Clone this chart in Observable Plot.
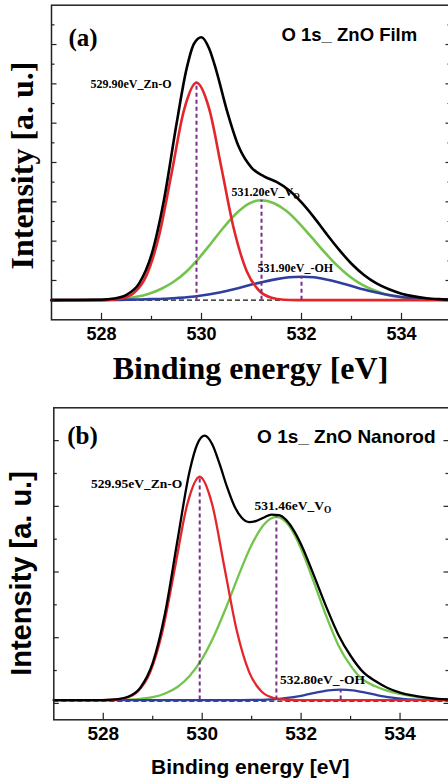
<!DOCTYPE html>
<html><head><meta charset="utf-8">
<script src="https://cdn.jsdelivr.net/npm/d3@7"></script>
<script src="https://cdn.jsdelivr.net/npm/@observablehq/plot@0.6"></script>
<style>
html,body{margin:0;padding:0;background:#fff;overflow:hidden;width:448px;height:781px}
#chart svg{display:block}
</style></head><body><div id="chart"></div>
<script>
// ---------------- DATA: panel (a) O 1s ZnO Film ----------------
const blackA_E = [527.0,527.5,528.0,528.25,528.5,528.75,529.0,529.25,529.5,529.7,529.85,530.0,530.15,530.3,530.5,530.75,531.0,531.25,531.5,531.75,532.0,532.25,532.5,532.75,533.0,533.25,533.5,533.75,534.0,534.25,534.5,534.75,535.0];
const blackA_I = [0,0.01,0.02,0.08,0.27,0.84,2.31,5.11,8.96,11.75,13.04,13.37,12.81,11.64,9.72,7.77,6.74,6.30,6.01,5.59,4.97,4.21,3.37,2.57,1.85,1.28,0.85,0.55,0.33,0.19,0.10,0.05,0.02];
const redA_E = [527.0,527.9,528.15,528.4,528.65,528.9,529.15,529.4,529.65,529.9,530.15,530.4,530.65,530.9,531.15,531.4,531.65,531.9,535.0];
const redA_I = [0,0,0.01,0.08,0.37,1.26,3.26,6.43,9.66,11.06,9.76,6.71,3.59,1.50,0.49,0.12,0.02,0,0];
const greenA_E = [527.0,527.7,527.95,528.2,528.45,528.7,528.95,529.2,529.45,529.7,529.95,530.2,530.45,530.7,530.95,531.2,531.45,531.7,531.95,532.2,532.45,532.7,532.95,533.2,533.45,533.7,533.95,534.2,534.45,534.7,535.0];
const greenA_I = [0,0.01,0.02,0.04,0.08,0.17,0.33,0.58,0.95,1.46,2.14,2.92,3.72,4.42,4.91,5.08,4.93,4.53,3.92,3.20,2.47,1.79,1.23,0.80,0.50,0.28,0.16,0.09,0.05,0.03,0.01];
const blueA_E = [527.0,528.0,528.25,528.5,528.75,529.0,529.25,529.5,529.75,530.0,530.25,530.5,530.75,531.0,531.25,531.5,531.75,532.0,532.25,532.5,532.75,533.0,533.25,533.5,533.75,534.0,534.25,534.5,534.75,535.0];
const blueA_I = [0,0,0.01,0.02,0.03,0.05,0.07,0.11,0.16,0.24,0.34,0.47,0.62,0.79,0.94,1.07,1.16,1.19,1.16,1.05,0.90,0.72,0.54,0.39,0.26,0.16,0.09,0.05,0.02,0.01];
const peakA_E = [529.9, 531.2, 532.0];
const peakA_I = [11.06, 5.08, 1.19];
const peakA_label = ["529.90eV_Zn-O", "531.20eV_V", "531.90eV_-OH"];
const peakA_sub = ["", "O", ""];
const baselineA = 0;
const titleA = "O 1s_ ZnO Film";
const tagA = "(a)";

// ---------------- DATA: panel (b) O 1s ZnO Nanorod ----------------
const blackB_E = [527.0,527.5,528.0,528.25,528.5,528.75,529.0,529.25,529.5,529.75,529.9,530.05,530.2,530.35,530.5,530.65,530.8,530.95,531.1,531.25,531.4,531.55,531.7,531.85,532.0,532.25,532.5,532.75,533.0,533.25,533.5,533.75,534.0,534.25,534.5,534.75,535.0];
const blackB_I = [0.1,0.1,0.10,0.12,0.20,0.48,1.23,2.75,4.96,7.10,7.89,8.15,7.90,7.30,6.60,6.01,5.65,5.52,5.56,5.66,5.75,5.73,5.58,5.27,4.84,3.93,2.97,2.10,1.45,0.96,0.68,0.47,0.33,0.24,0.18,0.14,0.12];
const redB_E = [527.0,527.95,528.2,528.45,528.7,528.95,529.2,529.45,529.7,529.95,530.2,530.45,530.7,530.95,531.2,531.45,531.7,531.95,535.0];
const redB_I = [0.1,0.1,0.11,0.16,0.36,0.95,2.21,4.14,6.07,6.90,6.07,4.14,2.21,0.95,0.36,0.16,0.11,0.1,0.1];
const greenB_E = [527.0,528.0,528.25,528.5,528.75,529.0,529.25,529.5,529.75,530.0,530.25,530.5,530.75,531.0,531.25,531.5,531.75,532.0,532.25,532.5,532.75,533.0,533.25,533.5,533.75,534.0,534.25,534.5,534.75,535.0];
const greenB_I = [0.1,0.1,0.105,0.115,0.14,0.19,0.30,0.50,0.84,1.36,2.09,2.98,3.95,4.83,5.45,5.68,5.42,4.71,3.72,2.69,1.78,1.15,0.72,0.52,0.38,0.29,0.22,0.17,0.14,0.12];
const blueB_E = [527.0,530.8,531.05,531.3,531.55,531.8,532.05,532.3,532.55,532.8,533.05,533.3,533.55,533.8,534.05,534.3,534.55,535.0];
const blueB_I = [0.1,0.1,0.105,0.114,0.137,0.18,0.247,0.326,0.393,0.42,0.393,0.326,0.247,0.18,0.137,0.114,0.105,0.1];
const peakB_E = [529.95, 531.5, 532.8];
const peakB_I = [6.90, 5.68, 0.42];
const peakB_label = ["529.95eV_Zn-O", "531.46eV_V", "532.80eV_-OH"];
const peakB_sub = ["", "O", ""];
const baselineB = 0.07;
const peakBaseB = 0.1;
const titleB = "O 1s_ ZnO Nanorod";
const tagB = "(b)";

// ---------------- axes ----------------
const energyTicks = [528, 530, 532, 534];
const energyMinor = [529, 531, 533];
const yMajorA = [1,3,5,7,9,11,13];
const yMinorA = [0,2,4,6,8,10,12,14];
const yMajorB = [0,2,4,6,8];
const yMinorB = [1,3,5,7];
const xLabel = "Binding energy [eV]";
const yLabel = "Intensity [a. u.]";

// ---------------- rendering ----------------
const SERIF = "'Liberation Serif','Times New Roman',serif";
const SANS = "'Liberation Sans',Arial,sans-serif";
const C = {black:"#000000", red:"#e3262b", green:"#72c44a", blue:"#2f3f9f", purple:"#7b2d8c", frame:"#222"};

const series = (E, I) => E.map((e, i) => ({e, v: I[i]}));
const peaksOf = (E, I, L, S) => E.map((e, i) => ({e, v: I[i], label: L[i], sub: S[i]}));

function panel(p) {
  const pw = p.width - p.marginLeft - p.marginRight;
  const ph = p.height - p.marginTop - p.marginBottom;
  const tickStyle = {stroke: C.frame, strokeWidth: 1.2};
  const marks = [
    Plot.ruleY([p.baseline], {y: d => d, stroke: "#111", strokeWidth: 1.1, strokeDasharray: "5,3"}),
    ...p.curves.map(c => Plot.line(series(c.E, c.I), {x: "e", y: "v", stroke: c.color, strokeWidth: p.lineWidth, curve: "monotone-x"})),
    Plot.ruleX(p.peaks, {x: "e", y1: p.peakBase, y2: "v", stroke: C.purple, strokeWidth: 2, strokeDasharray: "4,3"}),
    Plot.frame({stroke: C.frame, strokeWidth: 1.5}),
    Plot.tickX(energyTicks, {x: d => d, insetTop: ph - 6.5, ...tickStyle}),
    Plot.tickX(energyMinor, {x: d => d, insetTop: ph - 3.5, ...tickStyle}),
    Plot.tickY(p.yMajor, {y: d => d, insetRight: pw - 5.5, ...tickStyle}),
    Plot.tickY(p.yMajor, {y: d => d, insetLeft: pw - 5.5, ...tickStyle}),
    Plot.tickY(p.yMinor, {y: d => d, insetRight: pw - 3.5, ...tickStyle}),
    Plot.tickY(p.yMinor, {y: d => d, insetLeft: pw - 3.5, ...tickStyle}),
    Plot.axisX(energyTicks, {tickSize: 0, tickPadding: 7, tickFormat: d => String(d), label: null,
      fontSize: p.tickFont, fontWeight: "bold", fontFamily: SANS, fill: "#000"}),
    Plot.text([xLabel], {frameAnchor: "bottom", text: d => d, textAnchor: "middle", dx: p.xl.dx, dy: p.xl.dy, lineAnchor: "middle",
      fontSize: p.xl.size, fontWeight: "bold", fontFamily: p.labelFont, fill: "#000"}),
    Plot.text([yLabel], {frameAnchor: "left", rotate: -90, text: d => d, textAnchor: "middle", dx: p.yl.dx, dy: p.yl.dy, lineAnchor: "middle",
      fontSize: p.yl.size, fontWeight: "bold", fontFamily: p.labelFont, fill: "#000"}),
    Plot.text([p.tag], {frameAnchor: "top-left", text: d => d, textAnchor: "start", lineAnchor: "middle",
      dx: p.tagPos.dx, dy: p.tagPos.dy, fontSize: 25, fontWeight: "bold", fontFamily: SERIF, fill: "#000"}),
    Plot.text([p.title], {frameAnchor: "top-right", text: d => d, textAnchor: "end", lineAnchor: "middle",
      dx: p.titlePos.dx, dy: p.titlePos.dy, fontSize: p.titlePos.size, fontWeight: "bold", fontFamily: SANS, fill: "#000"}),
    ...p.peaks.map((pk, i) => Plot.text([pk], {x: "e", y: "v", text: "label", textAnchor: p.ann[i].anchor, lineAnchor: "middle",
      dx: p.ann[i].dx, dy: p.ann[i].dy, fontSize: p.annSize, fontWeight: "bold", fontFamily: SERIF, fill: "#000"}))
  ];
  const svg = Plot.plot({
    width: p.width, height: p.height,
    marginLeft: p.marginLeft, marginRight: p.marginRight, marginTop: p.marginTop, marginBottom: p.marginBottom,
    x: {domain: [527, 535]},
    y: {domain: p.yDomain, axis: null},
    style: {maxWidth: "none", overflow: "visible", background: "transparent"},
    marks
  });
  // subscripts (V_O)
  for (const pk of p.peaks) {
    if (!pk.sub) continue;
    for (const t of svg.querySelectorAll("text")) {
      if (t.textContent === pk.label) {
        const ts = document.createElementNS("http://www.w3.org/2000/svg", "tspan");
        ts.setAttribute("dy", "0.3em");
        ts.setAttribute("font-size", (p.annSize * 0.7).toFixed(1));
        ts.textContent = pk.sub;
        t.appendChild(ts);
      }
    }
  }
  return svg;
}

const svgA = panel({
  width: 451, height: 383, marginLeft: 51, marginRight: 0, marginTop: 4.7, marginBottom: 63.7,
  yDomain: [-1, 15], yMajor: yMajorA, yMinor: yMinorA, baseline: baselineA, peakBase: baselineA, lineWidth: 2.6,
  curves: [
    {E: greenA_E, I: greenA_I, color: C.green},
    {E: blueA_E, I: blueA_I, color: C.blue},
    {E: redA_E, I: redA_I, color: C.red},
    {E: blackA_E, I: blackA_I, color: C.black}
  ],
  peaks: peaksOf(peakA_E, peakA_I, peakA_label, peakA_sub),
  ann: [{anchor: "end", dx: -25, dy: 1.3}, {anchor: "start", dx: -30, dy: -8}, {anchor: "start", dx: -44, dy: -8.4}],
  annSize: 12,
  tickFont: 18, labelFont: SERIF,
  xl: {dx: -1, dy: 48.5, size: 32},
  yl: {dx: -29.2, dy: 3, size: 32},
  tag: tagA, tagPos: {dx: 17, dy: 32.3},
  title: titleA, titlePos: {dx: -34.3, dy: 29.4, size: 18.5}
});

const svgB = panel({
  width: 449, height: 398, marginLeft: 53.3, marginRight: 0, marginTop: 24.3, marginBottom: 61.7,
  yDomain: [-0.5, 9], yMajor: yMajorB, yMinor: yMinorB, baseline: baselineB, peakBase: peakBaseB, lineWidth: 2.3,
  curves: [
    {E: greenB_E, I: greenB_I, color: C.green},
    {E: blueB_E, I: blueB_I, color: C.blue},
    {E: redB_E, I: redB_I, color: C.red},
    {E: blackB_E, I: blackB_I, color: C.black}
  ],
  peaks: peaksOf(peakB_E, peakB_I, peakB_label, peakB_sub),
  ann: [{anchor: "end", dx: -17.5, dy: 7.3}, {anchor: "start", dx: -21.8, dy: -11}, {anchor: "start", dx: -60.8, dy: -10}],
  annSize: 13.5,
  tickFont: 19, labelFont: SANS,
  xl: {dx: -1.4, dy: 47.3, size: 21},
  yl: {dx: -31.6, dy: 9.7, size: 29},
  tag: tagB, tagPos: {dx: 13.4, dy: 28},
  title: titleB, titlePos: {dx: -14, dy: 29.3, size: 19}
});

const root = document.getElementById("chart");
root.appendChild(svgA);
root.appendChild(svgB);
</script></body></html>
